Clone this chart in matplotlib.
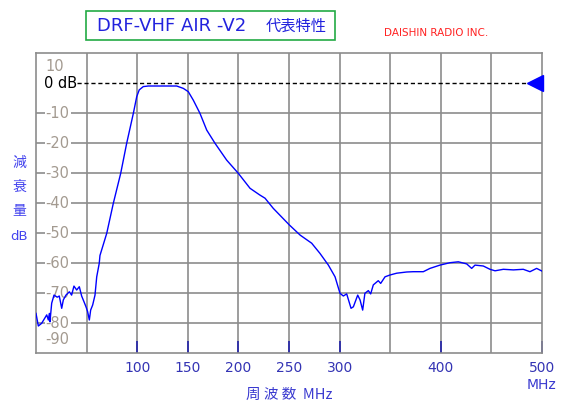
import matplotlib
matplotlib.use('Agg')
import matplotlib.pyplot as plt
from matplotlib.patches import Rectangle

# frequency response (MHz, dB)
freq = [0, 2.3, 5.6, 10.6, 12.2, 13.2, 13.8, 15.5, 17.8, 21, 23, 25.4, 27, 29.6,
        33, 35.2, 37.5, 40.2, 42.8, 45.1, 47.4, 49.4, 51, 52.7, 54, 56, 58.3,
        60, 62.5, 63.2, 69.9, 76.4, 83.7, 89.6, 96.2, 99.5, 102, 106, 111,
        125, 139, 145.6, 150.5, 155.4, 162, 168.7, 176.9, 188.4, 199.9, 211.5,
        221, 226.3, 234.5, 250.3, 261, 272.4, 280.6, 288.9, 295.5, 300.4,
        303.7, 307, 311.3, 313.6, 317.9, 320.2, 322.8, 325, 328.4, 330.7,
        333.3, 338.2, 340.6, 344.9, 349.8, 356.4, 366.3, 372.8, 382.7, 389.3,
        399.2, 409.1, 417.3, 425.6, 430.5, 433.8, 442, 448.6, 453.6, 461.8,
        471.7, 481.5, 488.1, 494.7, 500]
att = [-76.8, -81, -80.1, -77.3, -79, -76.8, -79.6, -73.4, -70.7, -71.4, -71,
       -75.1, -72.3, -70.7, -69.6, -70.7, -67.7, -69, -67.9, -71, -72.9, -74.6,
       -76.2, -79, -75.7, -74, -70.7, -64.6, -60.1, -57.5, -50.1, -40.1, -30.1,
       -20.1, -10.1, -4.6, -2.3, -1.2, -1.0, -1.0, -1.0, -1.8, -2.9, -5.7,
       -10.1, -15.7, -20.1, -25.7, -30.1, -35.1, -37.3, -38.4, -41.8, -47.3,
       -50.7, -53.4, -56.8, -60.7, -64.6, -70.1, -71, -70.3, -75.1, -74.6,
       -70.7, -72.3, -75.7, -70.1, -69.2, -70.3, -67.3, -65.9, -66.8, -64.6,
       -64, -63.4, -63, -62.9, -62.9, -61.8, -60.7, -59.9, -59.6, -60.3,
       -61.8, -60.7, -61, -62.1, -62.6, -62.1, -62.3, -62.1, -62.9, -61.8,
       -62.7]

xticks = [100, 150, 200, 250, 300, 400, 500]
xgrid = [50, 100, 150, 200, 250, 300, 350, 400, 450]
ylabels = [10, -10, -20, -30, -40, -50, -60, -70, -80, -90]
ygrid = [-10, -20, -30, -40, -50, -60, -70, -80]

jp = ['Noto Sans CJK JP', 'DejaVu Sans']
grid_c = '#8c8c8c'
navy = '#3434b4'

fig = plt.figure(figsize=(5.71, 4.12), dpi=100)
ax = fig.add_axes([36 / 571, 59 / 412, 506 / 571, 300 / 412])

ax.set_xlim(0, 500)
ax.set_ylim(-90, 10)
for s in ax.spines.values():
    s.set_color(grid_c)
    s.set_linewidth(1.2)

for g in xgrid:
    ax.axvline(g, color=grid_c, lw=1.2, zorder=1)
for g in ygrid:
    ax.axhline(g, color=grid_c, lw=1.2, zorder=1)

ax.set_yticks([])
ax.set_xticks(xticks)
ax.set_xticklabels([str(t) for t in xticks], color=navy, fontsize=10)
ax.tick_params(axis='x', direction='in', length=8.5, width=1.3, color='#2a2aa8', pad=6)

# y labels drawn inside the frame
for v in ylabels:
    if v == 10:
        y, va, off = v, 'top', -4
    elif v == -90:
        y, va, off = v, 'bottom', 4
    else:
        y, va, off = v, 'center', 0
    ax.annotate(str(v), (0, y), xytext=(7, off), textcoords='offset points',
                ha='left', va=va, color='#a39a90', fontsize=10.5, zorder=3,
                bbox=dict(fc='white', ec='none', pad=0.8))
ax.annotate('0 dB', (0, 0), xytext=(6, 0), textcoords='offset points',
            ha='left', va='center', color='black', fontsize=10.5, zorder=3)
ax.axhline(0, xmin=0.082, color='black', lw=1, ls=(0, (3, 2)), zorder=2)

ax.plot(freq, att, color='#0000ff', lw=1, zorder=4)
ax.plot([493], [0], marker='<', ms=11, color='#0000ff', clip_on=False, zorder=5)

ax.set_xlabel('周 波 数  MHz', family=jp, color='#3a3ad0', fontsize=10.5, labelpad=9)
fig.text(541 / 571, 1 - 385 / 412, 'MHz', ha='center', va='center', color='#3a3ad0', fontsize=10)

for i, ch in enumerate(['減', '衰', '量']):
    fig.text(19 / 571, 1 - (163 + 24 * i) / 412, ch, family=jp, ha='center', va='center',
             color='#4444ee', fontsize=10)
fig.text(19 / 571, 1 - 237 / 412, 'dB', ha='center', va='center', color='#4444ee', fontsize=9.5)

# title box
fig.patches.append(Rectangle((86 / 571, 1 - 40 / 412), 249 / 571, 29 / 412,
                             transform=fig.transFigure, fill=False, ec='#22aa44', lw=1.2))
fig.text(97 / 571, 1 - 26 / 412, 'DRF-VHF AIR -V2', ha='left', va='center', color='#2222dd', fontsize=13)
fig.text(266 / 571, 1 - 26 / 412, '代表特性', family=jp, ha='left', va='center', color='#2222dd', fontsize=11)
fig.text(436 / 571, 1 - 33 / 412, 'DAISHIN RADIO INC.', ha='center', va='center', color='#ff2222', fontsize=7.5)

fig.savefig('out.png', dpi=100)
